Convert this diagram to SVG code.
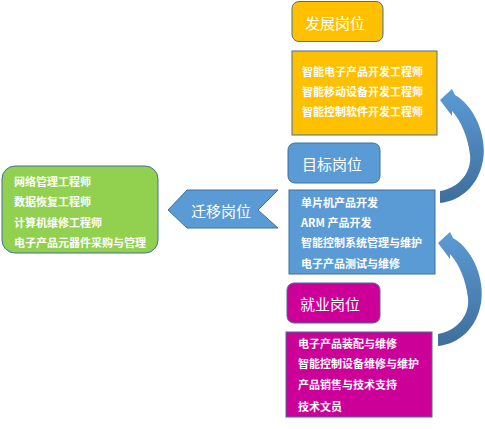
<svg xmlns="http://www.w3.org/2000/svg" width="485" height="429" viewBox="0 0 485 429">
<style>
.box{stroke:#41719C;stroke-width:1}
.title{font-family:"Noto Sans CJK SC","Noto Sans",sans-serif;font-size:15px;fill:#fff;text-anchor:middle;dominant-baseline:central}
.item{font-family:"Noto Sans CJK SC","Noto Sans",sans-serif;font-size:11px;font-weight:bold;fill:#fff;dominant-baseline:central}
</style>
<defs>
<linearGradient id="arr" x1="0" y1="0" x2="0" y2="1">
<stop offset="0" stop-color="#5B9BD5"/>
<stop offset="1" stop-color="#3F6E9B"/>
</linearGradient>
<path id="curve" d="M440,100 L452,89 L455,95 C476,107 487,138 483,160 C479,185 461,201 440,203 L440,191 C459,188 472,172 470,155 C468,137 461,121 452,111 L452,116 Z"/>
</defs>
<g id="connectors">
<use href="#curve" fill="url(#arr)"/>
<use href="#curve" fill="url(#arr)" transform="translate(-2,143)"/>
</g>
<g id="fazhan">
<rect class="box" x="292" y="1.5" width="91" height="40" rx="7" fill="#FFC000"/>
<text class="title" x="335" y="22">发展岗位</text>
</g>
<g id="fazhan-list">
<rect class="box" x="292" y="51" width="145" height="84" fill="#FFC000"/>
<text class="item" x="302" y="71">智能电子产品开发工程师</text>
<text class="item" x="302" y="91">智能移动设备开发工程师</text>
<text class="item" x="302" y="111">智能控制软件开发工程师</text>
</g>
<g id="mubiao">
<rect class="box" x="288" y="143" width="92" height="40" rx="7" fill="#5B9BD5"/>
<text class="title" x="332" y="163">目标岗位</text>
</g>
<g id="mubiao-list">
<rect class="box" x="289" y="190" width="146" height="84" fill="#5B9BD5"/>
<text class="item" x="301" y="202">单片机产品开发</text>
<text class="item" x="301" y="222">ARM 产品开发</text>
<text class="item" x="301" y="242">智能控制系统管理与维护</text>
<text class="item" x="301" y="263">电子产品测试与维修</text>
</g>
<g id="jiuye">
<rect class="box" x="287" y="283" width="93" height="40" rx="7" fill="#CC0099"/>
<text class="title" x="330" y="303">就业岗位</text>
</g>
<g id="jiuye-list">
<rect class="box" x="286" y="332" width="146" height="85" fill="#CC0099"/>
<text class="item" x="298" y="343">电子产品装配与维修</text>
<text class="item" x="298" y="363">智能控制设备维修与维护</text>
<text class="item" x="298" y="384">产品销售与技术支持</text>
<text class="item" x="298" y="406">技术文员</text>
</g>
<g id="qianyi">
<polygon class="box" points="168,210 187,190 278,190 258,210 278,228 187,228" fill="#5B9BD5"/>
<text class="title" x="221" y="210">迁移岗位</text>
</g>
<g id="qianyi-list">
<rect class="box" x="2" y="166" width="156" height="87" rx="13" fill="#92D050"/>
<text class="item" x="14" y="181">网络管理工程师</text>
<text class="item" x="14" y="201">数据恢复工程师</text>
<text class="item" x="14" y="222">计算机维修工程师</text>
<text class="item" x="14" y="242">电子产品元器件采购与管理</text>
</g>
</svg>
